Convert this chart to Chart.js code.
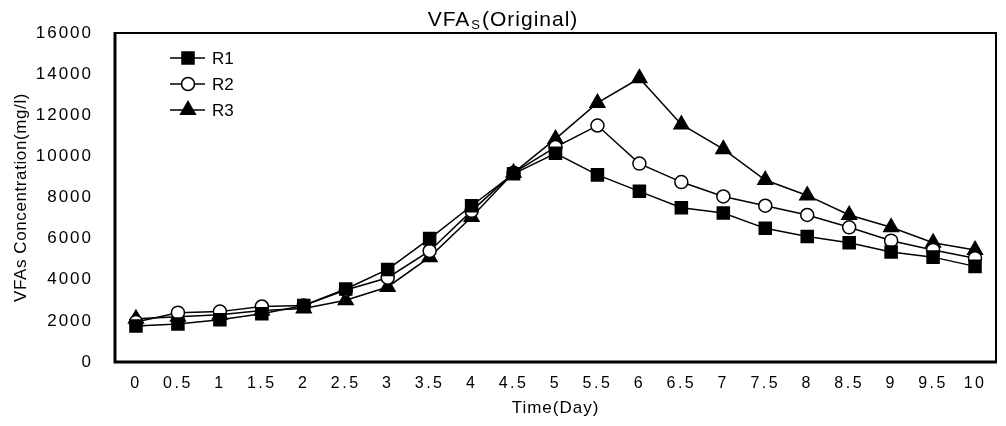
<!DOCTYPE html>
<html>
<head>
<meta charset="utf-8">
<script src="https://cdn.jsdelivr.net/npm/chart.js@4/dist/chart.umd.min.js"></script>
<style>
html,body{margin:0;padding:0;background:#fff;}
#c{display:block;}
</style>
</head>
<body>
<canvas id="c" width="1006" height="426"></canvas>
<script>
const days = ['0','0.5','1','1.5','2','2.5','3','3.5','4','4.5','5','5.5','6','6.5','7','7.5','8','8.5','9','9.5','10'];
const r1 = [1750,1850,2050,2350,2750,3550,4500,6000,7600,9150,10150,9100,8300,7500,7250,6500,6100,5800,5350,5100,4650];
const r2 = [1950,2400,2450,2700,2750,3500,4100,5400,7350,9200,10450,11500,9650,8750,8050,7600,7150,6550,5900,5450,5050];
const r3 = [2100,2200,2300,2500,2600,3000,3650,5100,7050,9200,10850,12600,13800,11550,10350,8850,8100,7150,6550,5800,5450];
const seriesNames = ['R1','R2','R3'];
const yTicks = [0,2000,4000,6000,8000,10000,12000,14000,16000];

const FONT = "'Liberation Sans', Arial, sans-serif";

function spaced(fn, sp){
  return function(){
    const c = this.ctx;
    const prev = c.letterSpacing;
    c.letterSpacing = sp;
    const r = fn.apply(this, arguments);
    c.letterSpacing = prev || '0px';
    return r;
  };
}

const patchPlugin = {
  id: 'patch',
  beforeDraw(chart){
    const x = chart.scales.x, y = chart.scales.y;
    if (!x._patched){ x.drawLabels = spaced(x.drawLabels, '2.5px'); x.drawTitle = spaced(x.drawTitle, '1px'); x._patched = true; }
    if (!y._patched){ y.drawLabels = spaced(y.drawLabels, '2px'); y.drawTitle = spaced(y.drawTitle, '0.6px'); y._patched = true; }
  }
};

function drawMarker(ctx, style, r, x, y){
  ctx.save();
  ctx.lineWidth = 1.5;
  ctx.strokeStyle = '#000';
  ctx.beginPath();
  if (style === 'rect'){
    const s = r * Math.SQRT1_2;
    ctx.rect(x - s, y - s, 2*s, 2*s);
    ctx.fillStyle = '#000';
  } else if (style === 'circle'){
    ctx.arc(x, y, r, 0, Math.PI*2);
    ctx.fillStyle = '#fff';
  } else {
    ctx.moveTo(x, y - r);
    ctx.lineTo(x + r*Math.sin(2*Math.PI/3), y - r*Math.cos(2*Math.PI/3));
    ctx.lineTo(x + r*Math.sin(4*Math.PI/3), y - r*Math.cos(4*Math.PI/3));
    ctx.closePath();
    ctx.fillStyle = '#000';
  }
  ctx.fill();
  ctx.stroke();
  ctx.restore();
}

const decorPlugin = {
  id: 'decor',
  afterDatasetsDraw(chart){
    const ctx = chart.ctx;
    const a = chart.chartArea;
    ctx.save();
    ctx.strokeStyle = '#000';
    ctx.lineWidth = 2;
    ctx.strokeRect(a.left, a.top, a.right - a.left, a.bottom - a.top);
    ctx.lineWidth = 3;
    ctx.beginPath();
    ctx.moveTo(a.left, a.top - 1);
    ctx.lineTo(a.left, a.bottom);
    ctx.lineTo(a.right + 1, a.bottom);
    ctx.stroke();
    ctx.restore();

    // legend
    chart.data.datasets.forEach((ds, i) => {
      const ly = 58 + i * 26;
      ctx.save();
      ctx.strokeStyle = '#000';
      ctx.lineWidth = 1.5;
      ctx.beginPath();
      ctx.moveTo(170, ly);
      ctx.lineTo(205, ly);
      ctx.stroke();
      ctx.restore();
      drawMarker(ctx, ds.pointStyle, ds.pointRadius, 188, ly);
      ctx.save();
      ctx.fillStyle = '#000';
      ctx.font = '17px ' + FONT;
      ctx.textBaseline = 'middle';
      ctx.textAlign = 'left';
      ctx.fillText(ds.label, 212, ly + 1);
      ctx.restore();
    });

    // title with subscript S
    ctx.save();
    ctx.fillStyle = '#000';
    ctx.textBaseline = 'alphabetic';
    ctx.textAlign = 'left';
    try { ctx.letterSpacing = '1px'; } catch(e){}
    const big = '21px ' + FONT, small = '13px ' + FONT;
    ctx.font = big; const w1 = ctx.measureText('VFA').width;
    ctx.font = small; const w2 = ctx.measureText('S').width;
    ctx.font = big; const w3 = ctx.measureText('(Original)').width;
    let tx = 503 - (w1 + w2 + w3 + 2) / 2;
    const ty = 26;
    ctx.font = big; ctx.fillText('VFA', tx, ty); tx += w1 + 1;
    ctx.font = small; ctx.fillText('S', tx, ty + 3); tx += w2 + 1;
    ctx.font = big; ctx.fillText('(Original)', tx, ty);
    ctx.restore();
  }
};

const common = { borderColor:'#000', borderWidth:1.5, pointBorderColor:'#000', pointBorderWidth:1.5, tension:0 };

new Chart(document.getElementById('c'), {
  type: 'line',
  data: {
    labels: days,
    datasets: [
      Object.assign({ label: seriesNames[0], data: r1, pointStyle:'rect', pointRadius:8.5, pointBackgroundColor:'#000' }, common),
      Object.assign({ label: seriesNames[1], data: r2, pointStyle:'circle', pointRadius:6.5, pointBackgroundColor:'#fff' }, common),
      Object.assign({ label: seriesNames[2], data: r3, pointStyle:'triangle', pointRadius:8.5, pointBackgroundColor:'#000' }, common)
    ]
  },
  options: {
    responsive: false,
    animation: false,
    devicePixelRatio: 1,
    layout: { padding: { top: 33, right: 6, left: 0, bottom: 0 } },
    plugins: { legend: { display: false }, title: { display: false }, tooltip: { enabled: false } },
    scales: {
      x: {
        type: 'category',
        offset: true,
        grid: { display: false, drawTicks: false },
        border: { display: false },
        ticks: { color: '#000', font: { family: FONT, size: 16 }, padding: 12, maxRotation: 0, autoSkip: false },
        title: { display: true, text: 'Time(Day)', color: '#000', font: { family: FONT, size: 17 }, padding: { top: 0, bottom: 7 } },
        afterFit(s){ s.height = 64; }
      },
      y: {
        min: 0, max: 16000,
        afterBuildTicks(s){ s.ticks = yTicks.map(v => ({ value: v })); },
        grid: { display: false, drawTicks: false },
        border: { display: false },
        ticks: { color: '#000', font: { family: FONT, size: 17 }, padding: 22, callback: v => String(v) },
        title: { display: true, text: 'VFAs Concentration(mg/l)', color: '#000', font: { family: FONT, size: 17 }, padding: { top: 11, bottom: 0 } },
        afterFit(s){ s.width = 115; }
      }
    }
  },
  plugins: [patchPlugin, decorPlugin]
});
</script>
</body>
</html>
